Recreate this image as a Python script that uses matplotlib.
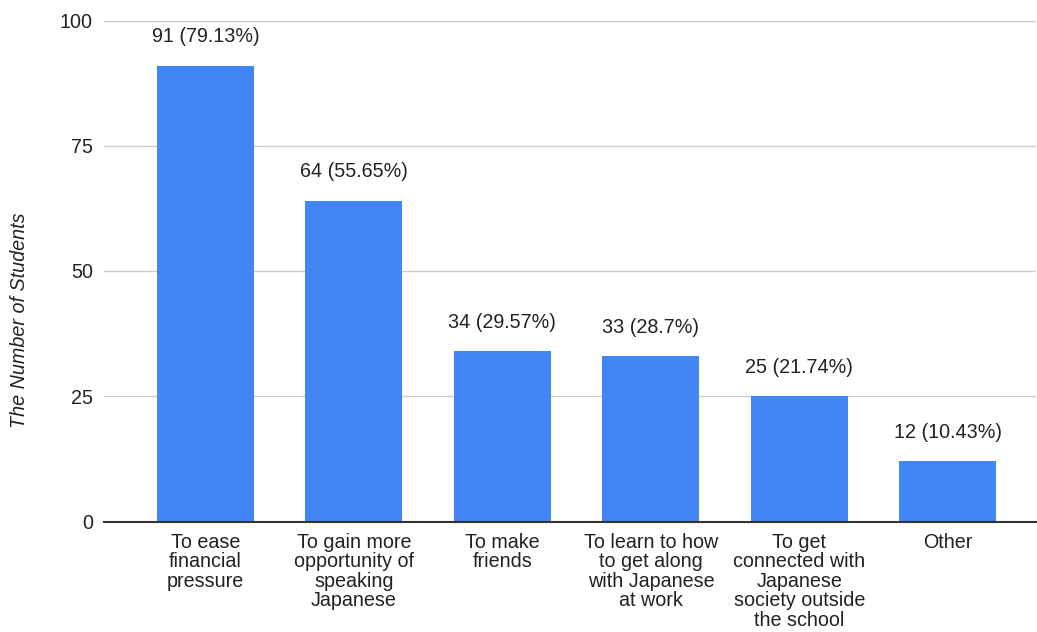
import matplotlib.pyplot as plt

plt.rcParams['font.family'] = ['Liberation Sans', 'DejaVu Sans']

categories = [
    "To ease\nfinancial\npressure",
    "To gain more\nopportunity of\nspeaking\nJapanese",
    "To make\nfriends",
    "To learn to how\nto get along\nwith Japanese\nat work",
    "To get\nconnected with\nJapanese\nsociety outside\nthe school",
    "Other",
]
counts = [91, 64, 34, 33, 25, 12]
percents = ["79.13%", "55.65%", "29.57%", "28.7%", "21.74%", "10.43%"]
yticks = [0, 25, 50, 75, 100]

FS = 14.2
fig = plt.figure(figsize=(10.37, 6.32), dpi=100)
W, H = 1037, 632
left, right, top, bottom = 104, 1036, 20.5, 521.5
ax = fig.add_axes([left / W, 1 - bottom / H, (right - left) / W, (bottom - top) / H])

x = list(range(len(categories)))
ax.bar(x, counts, width=0.653, color="#4285F4", zorder=3)

for xi, c, p in zip(x, counts, percents):
    ax.annotate(f"{c} ({p})", (xi, c), xytext=(0, 29), textcoords="offset pixels",
                ha="center", va="center", fontsize=FS, color="#222222")

ax.set_ylim(0, 100)
ax.set_xlim(-0.683, 5.593)
ax.set_yticks(yticks)
ax.set_yticklabels([str(t) for t in yticks], fontsize=FS, color="#222222")
ax.set_xticks(x)
ax.set_xticklabels(categories, fontsize=FS, color="#222222", linespacing=1.04)
ax.tick_params(axis="both", length=0)
ax.tick_params(axis="y", pad=8)
ax.tick_params(axis="x", pad=8)

ax.grid(axis="y", color="#cccccc", linewidth=1, zorder=0)
for s in ["top", "right", "left"]:
    ax.spines[s].set_visible(False)
ax.spines["bottom"].set_color("#333333")
ax.spines["bottom"].set_linewidth(1.5)
ax.spines["bottom"].set_zorder(4)

fig.text(20 / W, 1 - 320 / H, "The Number of Students", rotation=90, style="italic",
         ha="center", va="center", fontsize=FS, color="#222222")

fig.savefig("out.png", dpi=100, facecolor="white")
